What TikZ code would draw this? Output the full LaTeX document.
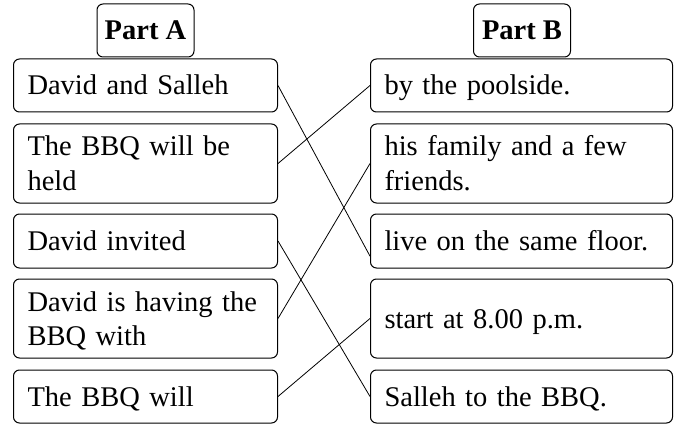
\documentclass[tikz,border=0pt]{standalone}
\usepackage{fontspec}
\setmainfont{Liberation Serif}
\usetikzlibrary{calc}
\newcommand\linestrut{\rule[-7pt]{0pt}{33pt}}

\begin{document}
\begin{tikzpicture}[x=1pt, y=-1pt,
    box/.style={draw, rounded corners=6pt, line width=1pt, inner xsep=14pt, inner ysep=0pt,
        align=left, font=\fontsize{28.5}{34}\selectfont,
        execute at begin node=\linestrut, execute at end node=\linestrut},
    lbox/.style={box, text width=236pt},
    rbox/.style={box, text width=274pt},
    head/.style={draw, rounded corners=6pt, line width=1pt, inner sep=0pt, minimum width=97pt,
        minimum height=53pt, font=\fontsize{28.5}{34}\selectfont\bfseries,
        execute at begin node=\linestrut}]
    \useasboundingbox (0,0) rectangle (677,425);
    % headings
    \node[head] (partA) at (145.5,30.5) {Part A};
    \node[head] (partB) at (522,30.5) {Part B};
    % Part A
    \node[lbox, minimum height=53pt] (a1) at (145.5,85.5) {David and Salleh};
    \node[lbox, minimum height=79pt] (a2) at (145.5,163.5) {The BBQ will be\\held};
    \node[lbox, minimum height=54pt] (a3) at (145.5,241) {David invited};
    \node[lbox, minimum height=79pt] (a4) at (145.5,318.5) {David is having the\\BBQ with};
    \node[lbox, minimum height=53pt] (a5) at (145.5,396.5) {The BBQ will};
    % Part B
    \node[rbox, minimum height=53pt] (b1) at (521.5,85.5) {by the poolside.};
    \node[rbox, minimum height=79pt] (b2) at (521.5,163.5) {his family and a few\\friends.};
    \node[rbox, minimum height=54pt] (b3) at (521.5,241) {live on the same floor.};
    \node[rbox, minimum height=79pt] (b4) at (521.5,318.5) {start at 8.00 p.m.};
    \node[rbox, minimum height=53pt] (b5) at (521.5,396.5) {Salleh to the BBQ.};
    % matching lines
    \draw[line width=.8pt] (a1.east) -- ($(b3.west)!.55!(b3.south west)$);
    \draw[line width=.8pt] (a2.east) -- (b1.west);
    \draw[line width=.8pt] (a3.east) -- (b5.west);
    \draw[line width=.8pt] (a4.east) -- (b2.west);
    \draw[line width=.8pt] (a5.east) -- (b4.west);
\end{tikzpicture}
\end{document}
